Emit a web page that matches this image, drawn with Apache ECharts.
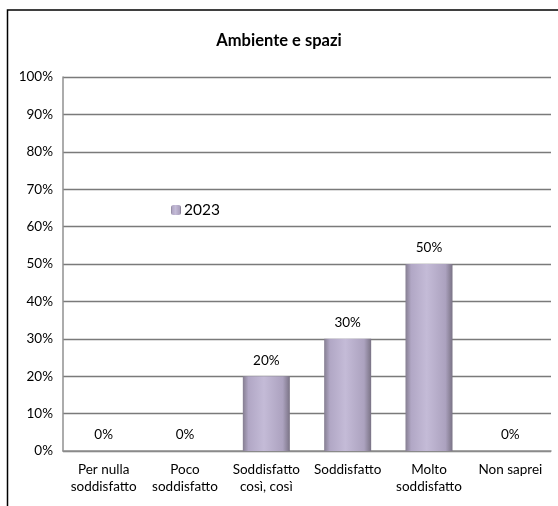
<!DOCTYPE html>
<html><head><meta charset="utf-8">
<script src="https://cdn.jsdelivr.net/npm/echarts@6/dist/echarts.min.js"></script>
<style>html,body{margin:0;padding:0;background:#fff}#c{width:558px;height:506px}</style>
</head><body><div id="c"></div>
<script>
var categories = ['Per nulla\nsoddisfatto', 'Poco\nsoddisfatto', 'Soddisfatto\ncosì, così', 'Soddisfatto', 'Molto\nsoddisfatto', 'Non saprei'];
var values2023 = [0, 0, 20, 30, 50, 0];
var seriesName = '2023';
var titleText = 'Ambiente e spazi';

var chart = echarts.init(document.getElementById('c'), null, {renderer: 'canvas'});
var barColor = new echarts.graphic.LinearGradient(0, 0, 1, 0, [
  {offset: 0, color: '#857e91'},
  {offset: 0.12, color: '#b1a7c5'},
  {offset: 0.45, color: '#c4bbd7'},
  {offset: 0.85, color: '#aca2bf'},
  {offset: 1, color: '#7a7385'}
]);
var font = 'Lato, "Open Sans", sans-serif';
chart.setOption({
  animation: false,
  backgroundColor: '#fff',
  title: {text: titleText, left: 'center', top: 27,
    textStyle: {fontFamily: font, fontSize: 16.5, fontWeight: 'bold', color: '#000'}},
  legend: {data: [seriesName], left: 166, top: 197, itemWidth: 10, itemHeight: 10, itemGap: 4,
    textStyle: {fontFamily: font, fontSize: 15.5, color: '#000', padding: [0, 0, 0, -2]}},
  grid: {left: 63, right: 7, top: 77, bottom: 55, containLabel: false},
  xAxis: {type: 'category', data: categories,
    axisLine: {show: true, lineStyle: {color: '#909090', width: 1.5}},
    axisTick: {show: false},
    axisLabel: {fontFamily: font, fontSize: 13.5, color: '#000', interval: 0, margin: 10, lineHeight: 17}},
  yAxis: {type: 'value', min: 0, max: 100, interval: 10,
    axisLine: {show: true, lineStyle: {color: '#909090', width: 1.5}},
    axisTick: {show: false},
    splitLine: {lineStyle: {color: '#7a7a7a', width: 1.3}},
    axisLabel: {fontFamily: font, fontSize: 13.5, color: '#000', margin: 10, formatter: '{value}%'}},
  series: [{name: seriesName, type: 'bar', data: values2023, barWidth: 47,
    itemStyle: {color: barColor},
    label: {show: true, position: 'top', distance: 9, formatter: '{c}%',
      fontFamily: font, fontSize: 13.5, color: '#000'}}],
  graphic: [{type: 'rect', shape: {x: 7.5, y: 10, width: 600, height: 600},
    style: {fill: null, stroke: '#000', lineWidth: 1.5}, silent: true, z: 100}]
});
</script></body></html>
